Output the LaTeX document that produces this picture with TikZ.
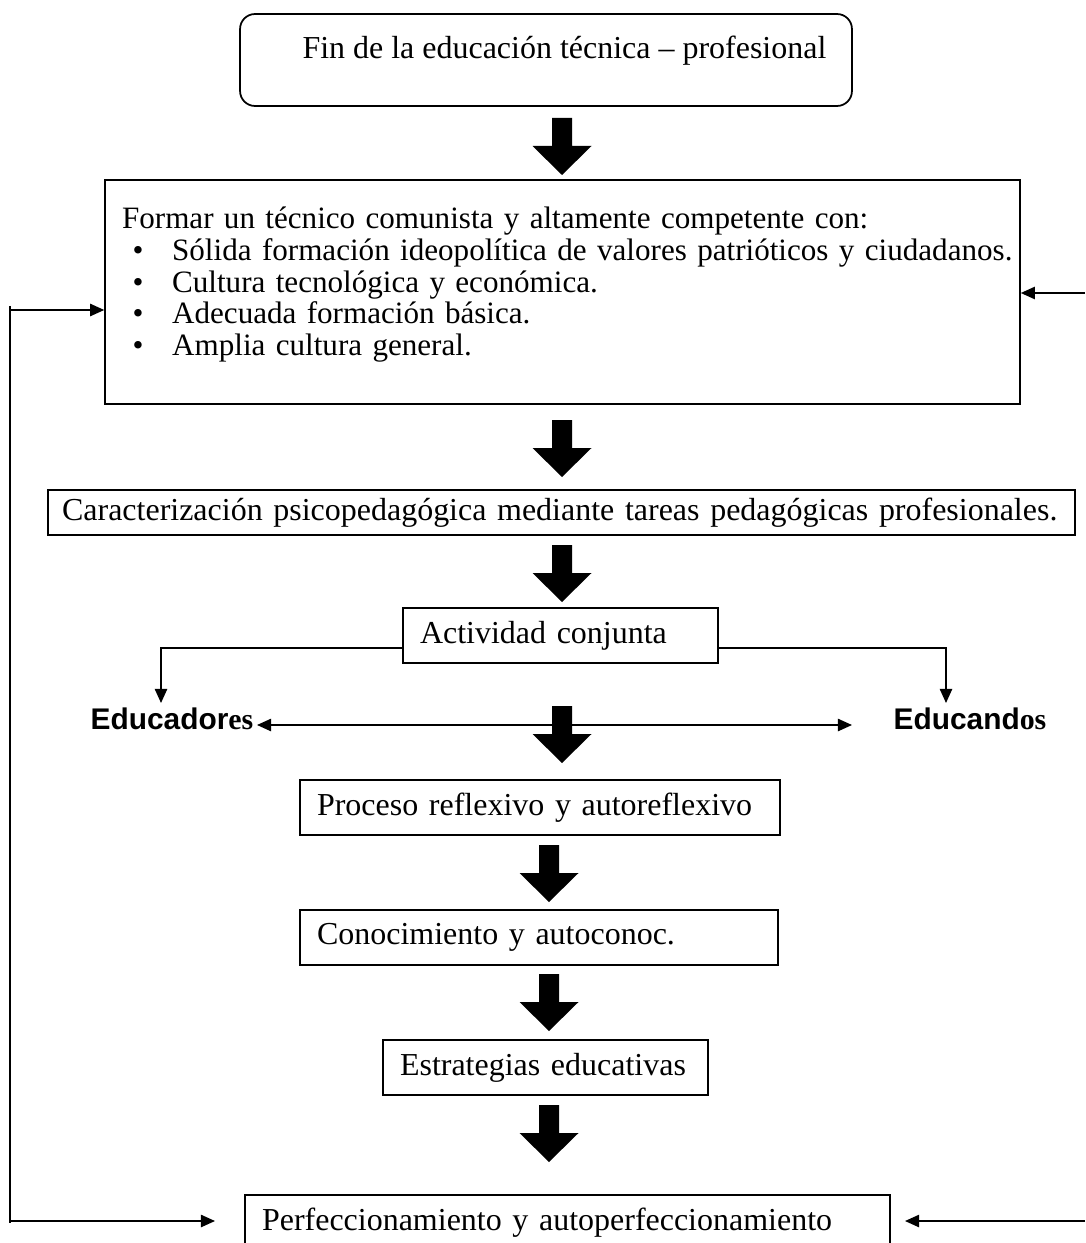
\documentclass[tikz,border=0pt]{standalone}
\usepackage{fontspec}
\setmainfont{Liberation Serif}
\newfontfamily\arialfont{Liberation Sans}
\usepackage{tikz}
\usetikzlibrary{arrows.meta}
\newcommand{\blockdown}[2]% center x, top y
{\fill (#1,#2) ++(-10,0) -- ++(20,0) -- ++(0,28) -- ++(19.5,0) -- ++(-29.5,29) -- ++(-29.5,-29) -- ++(19.5,0) -- cycle;
}
\newcommand{\itembullet}{\makebox[28.5pt][l]{\hspace{6pt}\textbullet}}
\tikzset{
  box/.style = {draw, line width=1pt, inner xsep=0.34cm, inner ysep=0pt, align=left, font=\fontsize{18.2}{18.1}\selectfont},
  roundbox/.style = {box, rounded corners=0.3cm, align=center},
  link/.style = {line width=0.9pt},
  tip/.style = {-{Triangle[length=8pt,width=7pt]}},
  label/.style = {font=\fontsize{17}{18.1}\selectfont\bfseries}
}

\begin{document}
\begin{tikzpicture}[x=0.02cm,y=-0.02cm]
\useasboundingbox (0,0) rectangle (1085,1243);

% -- top of the chain
\draw (546,60) node[roundbox, minimum width=12.24cm, minimum height=1.84cm] (fin) {\hspace*{21pt}Fin de la educación técnica – profesional\\[-9pt] \strut};
\blockdown{562}{118}

\draw (562.5,292) node[box, font=\fontsize{17.7}{18.1}\selectfont, text width=17.62cm, minimum height=4.48cm] (form) {\mbox{Formar un técnico comunista y altamente competente con:}\\
\mbox{\itembullet Sólida formación ideopolítica de valores patrióticos y ciudadanos.}\\
\mbox{\itembullet Cultura tecnológica y económica.}\\
\mbox{\itembullet Adecuada formación básica.}\\
\mbox{\itembullet Amplia cultura general.}\\[-6pt]\mbox{}};
\blockdown{562}{420}

\draw (561.5,512.5) node[box, inner xsep=0.28cm, text width=19.98cm, minimum height=0.9cm] (carac) {\mbox{Caracterización psicopedagógica mediante tareas pedagógicas profesionales.}};
\blockdown{562}{545}

% -- joint activity
\draw (560.5,635.5) node[box, text width=5.62cm, minimum height=1.1cm] (act) {Actividad conjunta};

\node[label] (edr) at (172,719) {{\arialfont Educador}es};
\node[label] (edn) at (970,719) {{\arialfont Educand}os};
\coordinate (edrtop) at (161,703);
\coordinate (edntop) at (946,703);
\draw[link, tip] ([shift={(0,12.5)}]act.west) -| (edrtop);
\draw[link, tip] ([shift={(0,12.5)}]act.east) -| (edntop);

\coordinate (dblL) at (257,725);
\coordinate (dblR) at (852,725);
\draw[link, {Triangle[length=8pt,width=7pt]}-{Triangle[length=8pt,width=7pt]}] (dblL) -- (dblR);
\blockdown{562}{706}

% -- lower chain
\draw (540,807.5) node[box, text width=8.92cm, minimum height=1.1cm] (proc) {Proceso reflexivo y autoreflexivo};
\blockdown{549}{845}

\draw (539,937.5) node[box, text width=8.88cm, minimum height=1.1cm] (conoc) {Conocimiento y autoconoc.};
\blockdown{549}{974}

\draw (545.5,1067.5) node[box, text width=5.82cm, minimum height=1.1cm] (estr) {Estrategias educativas};
\blockdown{549}{1105}

\draw (567.5,1222.5) node[box, text width=12.22cm, minimum height=1.1cm] (perf) {Perfeccionamiento y autoperfeccionamiento};

% -- feedback
\coordinate (loopT) at (10,310);
\coordinate (loopB) at (10,1221);
\coordinate (perfL) at (215,1221);
\coordinate (inR) at (1085,293);
\coordinate (inRB) at (1085,1221);
\coordinate (perfR) at (905,1221);
\draw[link] ([shift={(0,-4)}]loopT) -- ([shift={(0,2)}]loopB);
\draw[link, tip] (loopT) -- (loopT -| form.west);
\draw[link, tip] (loopB) -- (perfL);
\draw[link, tip] (inR) -- (inR -| form.east);
\draw[link, tip] (inRB) -- (perfR);

\end{tikzpicture}
\end{document}
